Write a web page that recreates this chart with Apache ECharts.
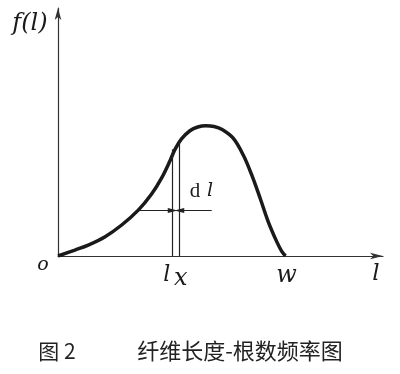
<!DOCTYPE html>
<html><head><meta charset="utf-8">
<script src="https://cdn.jsdelivr.net/npm/echarts@6/dist/echarts.min.js"></script>
<style>html,body{margin:0;padding:0;background:#fff}#c{width:400px;height:374px}</style>
</head><body><div id="c"></div>
<script>
// fibre length l (arbitrary units) and frequency f(l)
const curveL = [0, 0.52, 0.93, 1.45, 1.96, 2.47, 2.88, 3.19, 3.45, 3.60, 3.80, 4.06, 4.30, 4.55, 4.80, 5.05, 5.39, 5.70, 5.96, 6.22, 6.47, 6.73, 6.88, 7.0];
const curveF = [0, 0.24, 0.44, 0.78, 1.25, 1.85, 2.50, 3.15, 3.85, 4.30, 4.72, 5.05, 5.20, 5.25, 5.22, 5.10, 4.75, 4.07, 3.27, 2.33, 1.38, 0.58, 0.20, 0];
// the strip l_x .. l_x + dl
const lx = 3.53;
const dl = 0.20;
const stripTop = [4.30, 4.62];
const arrowY = 1.83;
const arrowStart = [2.52, 4.73];
const lMax = 10;
const fMax = 10;
const wValue = 7.0;
// texts
const yName = 'f(l)';
const originText = 'o';
const xName = 'l';
const lxText = ['l', 'x'];
const wText = 'w';
const dlText = ['d', 'l'];
const figNo = '图 2';
const caption = '纤维长度-根数频率图';

const ink = '#1a1a1a';
const serifI = { fontFamily: 'DejaVu Serif', fontStyle: 'italic', fill: ink };

const chart = echarts.init(document.getElementById('c'), null, { renderer: 'canvas' });
const stripX = [lx, lx + dl];
const option = {
  animation: false,
  backgroundColor: '#fff',
  grid: { left: 58, right: 17, top: 8, bottom: 118 },
  xAxis: {
    type: 'value', min: 0, max: lMax,
    axisLine: { show: true, onZero: false, symbol: ['none', 'arrow'], symbolSize: [5, 13], lineStyle: { color: '#333', width: 1.2 } },
    axisTick: { show: false }, axisLabel: { show: false }, splitLine: { show: false }
  },
  yAxis: {
    type: 'value', min: 0, max: fMax,
    axisLine: { show: true, onZero: false, symbol: ['none', 'arrow'], symbolSize: [5, 12], lineStyle: { color: '#333', width: 1.2 } },
    axisTick: { show: false }, axisLabel: { show: false }, splitLine: { show: false }
  },
  series: [
    {
      type: 'line', smooth: 0.35, symbol: 'none',
      data: curveL.map((l, i) => [l, curveF[i]]),
      lineStyle: { color: ink, width: 3.5 },
      z: 3
    },
    {
      type: 'line', symbol: 'none', data: [],
      markLine: {
        silent: true, symbol: 'none', label: { show: false },
        lineStyle: { color: '#222', width: 1.2, type: 'solid' },
        data: stripX.map((x, i) => [{ coord: [x, 0] }, { coord: [x, stripTop[i]] }])
      },
      z: 2
    },
    {
      type: 'line', symbol: 'none', data: [],
      markLine: {
        silent: true, symbol: ['none', 'triangle'], symbolSize: [5, 10], label: { show: false },
        lineStyle: { color: '#222', width: 1.2, type: 'solid' },
        data: stripX.map((x, i) => [{ coord: [arrowStart[i], arrowY] }, { coord: [x, arrowY] }])
      },
      z: 2
    }
  ]
};
chart.setOption(option);

const P = (x, y) => chart.convertToPixel({ gridIndex: 0 }, [x, y]);
const pO = P(0, 0);
const pTop = P(0, fMax);
const pRight = P(lMax, 0);
const pLx = P(lx, 0);
const pW = P(wValue, 0);
const pDl = P(lx + dl / 2, arrowY);
const t = (text, x, y, size, extra) => ({
  type: 'text', x, y, silent: true,
  style: Object.assign({ text, fontSize: size, align: 'center', verticalAlign: 'middle' }, serifI, extra || {})
});
chart.setOption({
  graphic: [
    t(yName, pTop[0] - 28, pTop[1] + 16, 24),
    t(originText, pO[0] - 15, pO[1] + 9, 19),
    t(lxText[0], pLx[0] - 6, pO[1] + 19, 22),
    t(lxText[1], pLx[0] + 8, pO[1] + 23, 24),
    t(wText, pW[0] + 1, pO[1] + 20, 24),
    t(xName, pRight[0] - 7, pO[1] + 18, 23),
    t(dlText[0], pDl[0] + 19, pDl[1] - 19, 19, { fontStyle: 'normal', fontFamily: 'Liberation Serif', fontSize: 21 }),
    t(dlText[1], pDl[0] + 34, pDl[1] - 20, 19),
    { type: 'text', x: 57, y: 351, silent: true,
      style: { text: figNo, fontSize: 21, fontFamily: 'Noto Sans CJK SC', fill: '#222', align: 'center', verticalAlign: 'middle' } },
    { type: 'text', x: 240, y: 351, silent: true,
      style: { text: caption, fontSize: 22, fontFamily: 'Noto Sans CJK SC', fill: '#222', align: 'center', verticalAlign: 'middle' } }
  ]
});
</script>
</body></html>
